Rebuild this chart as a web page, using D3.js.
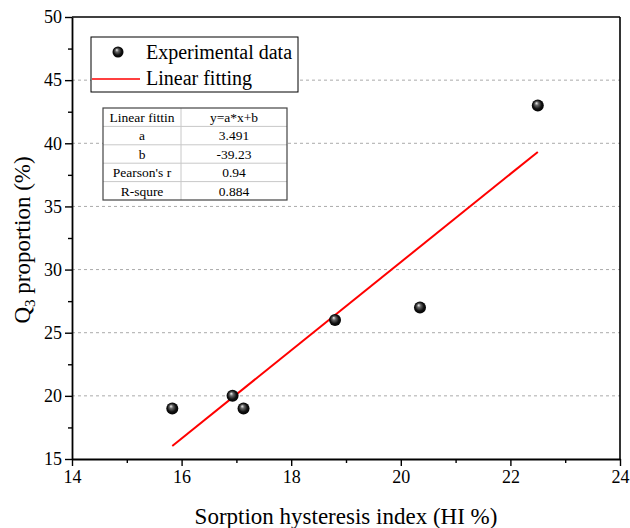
<!DOCTYPE html>
<html>
<head>
<meta charset="utf-8">
<script src="https://cdn.jsdelivr.net/npm/d3@7"></script>
<style>
  body { margin: 0; background: #fff; }
  svg text { font-family: "Liberation Serif", "Times New Roman", Tinos, serif !important; }
</style>
</head>
<body>
<script>
// data
const hiValues = [15.83, 16.93, 17.13, 18.8, 20.35, 22.5];
const q3Values = [19, 20, 19, 26, 27, 43];
const fitA = 3.491, fitB = -39.23;
const fitRange = [15.83, 22.5];
const xTicks = [14, 16, 18, 20, 22, 24];
const yTicks = [15, 20, 25, 30, 35, 40, 45, 50];
const gridValues = [20, 25, 30, 35, 40, 45];
const tableLeft = ["Linear fittin", "a", "b", "Pearson's r", "R-squre"];
const tableRight = ["y=a*x+b", "3.491", "-39.23", "0.94", "0.884"];

const W = 630, H = 528;
const margin = { top: 17, right: 10, bottom: 69, left: 72 };
const w = W - margin.left - margin.right,
    h = H - margin.top - margin.bottom;

const svg = d3.select("body").append("svg")
    .attr("width", W)
    .attr("height", H);

const defs = svg.append("defs");
const grad = defs.append("radialGradient")
    .attr("id", "ball")
    .attr("cx", "50%").attr("cy", "50%").attr("r", "55%")
    .attr("fx", "38%").attr("fy", "30%");
grad.append("stop").attr("offset", "0%").attr("stop-color", "#f4f4f4");
grad.append("stop").attr("offset", "28%").attr("stop-color", "#666");
grad.append("stop").attr("offset", "65%").attr("stop-color", "#111");
grad.append("stop").attr("offset", "100%").attr("stop-color", "#000");

const g = svg.append("g")
    .attr("transform", "translate(" + margin.left + "," + margin.top + ")");

const x = d3.scaleLinear().domain([14, 24]).range([0, w]);
const y = d3.scaleLinear().domain([15, 50]).range([h, 0]);

// grid
g.selectAll(".grid")
    .data(gridValues)
    .enter().append("line")
    .attr("x1", 0).attr("x2", w)
    .attr("y1", d => y(d)).attr("y2", d => y(d))
    .attr("stroke", "#aaa")
    .attr("stroke-width", 1)
    .attr("stroke-dasharray", "3,3");

// frame top / right
g.append("line").attr("x1", 0).attr("x2", w).attr("y1", 0).attr("y2", 0)
    .attr("stroke", "#000").attr("stroke-width", 1.6);
g.append("line").attr("x1", w).attr("x2", w).attr("y1", 0).attr("y2", h)
    .attr("stroke", "#000").attr("stroke-width", 1.6);

// minor ticks
g.append("g")
    .attr("transform", "translate(0," + h + ")")
    .call(d3.axisBottom(x).tickValues(d3.range(15, 24, 2)).tickSize(4).tickSizeOuter(0).tickFormat(""))
    .call(a => a.select(".domain").remove())
    .selectAll("line").attr("stroke-width", 1.4);
g.append("g")
    .call(d3.axisLeft(y).tickValues(d3.range(17.5, 50, 5)).tickSize(4).tickSizeOuter(0).tickFormat(""))
    .call(a => a.select(".domain").remove())
    .selectAll("line").attr("stroke-width", 1.4);

// major axes
const xAxis = g.append("g")
    .attr("transform", "translate(0," + h + ")")
    .call(d3.axisBottom(x).tickValues(xTicks).tickSize(7).tickSizeOuter(0).tickPadding(4));
const yAxis = g.append("g")
    .call(d3.axisLeft(y).tickValues(yTicks).tickSize(7).tickSizeOuter(0).tickPadding(3));

[xAxis, yAxis].forEach(a => {
    a.attr("font-family", null).attr("font-size", null);
    a.select(".domain").attr("stroke-width", 1.8);
    a.selectAll(".tick line").attr("stroke-width", 1.4);
    a.selectAll("text")
        .style("font-size", "18px")
        .attr("fill", "#000");
});

// fit line
const fitLine = d3.line()
    .x(d => x(d))
    .y(d => y(fitA * d + fitB));
g.append("path")
    .datum(fitRange)
    .attr("d", fitLine)
    .attr("fill", "none")
    .attr("stroke", "#ff0000")
    .attr("stroke-width", 2);

// points
g.selectAll(".pt")
    .data(hiValues)
    .enter().append("circle")
    .attr("cx", d => x(d))
    .attr("cy", (d, i) => y(q3Values[i]))
    .attr("r", 6)
    .attr("fill", "url(#ball)");

// axis titles
svg.append("text")
    .attr("x", margin.left + w / 2)
    .attr("y", 524)
    .attr("text-anchor", "middle")
    .style("font-size", "23px")
    .text("Sorption hysteresis index (HI %)");

const yl = svg.append("text")
    .attr("transform", "translate(30," + (margin.top + h / 2 + 2) + ") rotate(-90)")
    .attr("text-anchor", "middle")
    .style("font-size", "23px");
yl.append("tspan").text("Q");
yl.append("tspan").style("font-size", "15px").attr("dy", 5).text("3");
yl.append("tspan").attr("dy", -5).text(" proportion (%)");

// legend
const leg = svg.append("g");
leg.append("rect")
    .attr("x", 91).attr("y", 37).attr("width", 207).attr("height", 55)
    .attr("fill", "#fff").attr("stroke", "#000").attr("stroke-width", 1);
leg.append("circle").attr("cx", 118).attr("cy", 52).attr("r", 5.5).attr("fill", "url(#ball)");
leg.append("line").attr("x1", 92).attr("x2", 140).attr("y1", 79).attr("y2", 79)
    .attr("stroke", "#ff0000").attr("stroke-width", 1.6);
leg.append("text").attr("x", 146).attr("y", 59).style("font-size", "20px").text("Experimental data");
leg.append("text").attr("x", 146).attr("y", 85).style("font-size", "20px").text("Linear fitting");

// table
const tx = 103, ty = 108, tw = 184, rowH = 18.4, colX = 181;
const tab = svg.append("g");
tab.append("rect").attr("x", tx).attr("y", ty).attr("width", tw).attr("height", rowH * tableLeft.length)
    .attr("fill", "#fff");
tab.selectAll(".hl")
    .data(d3.range(1, tableLeft.length))
    .enter().append("line")
    .attr("x1", tx).attr("x2", tx + tw)
    .attr("y1", d => ty + d * rowH).attr("y2", d => ty + d * rowH)
    .attr("stroke", "#c8c8c8").attr("stroke-width", 1);
tab.append("line").attr("x1", colX).attr("x2", colX).attr("y1", ty).attr("y2", ty + rowH * tableLeft.length)
    .attr("stroke", "#c8c8c8").attr("stroke-width", 1);
tab.append("rect").attr("x", tx).attr("y", ty).attr("width", tw).attr("height", rowH * tableLeft.length)
    .attr("fill", "none").attr("stroke", "#444").attr("stroke-width", 1.2);
tab.selectAll(".tl")
    .data(tableLeft)
    .enter().append("text")
    .attr("x", (tx + colX) / 2)
    .attr("y", (d, i) => ty + i * rowH + 14)
    .attr("text-anchor", "middle")
    .style("font-size", "13.5px")
    .text(d => d);
tab.selectAll(".tr")
    .data(tableRight)
    .enter().append("text")
    .attr("x", (colX + tx + tw) / 2)
    .attr("y", (d, i) => ty + i * rowH + 14)
    .attr("text-anchor", "middle")
    .style("font-size", "13.5px")
    .text(d => d);
</script>
</body>
</html>
